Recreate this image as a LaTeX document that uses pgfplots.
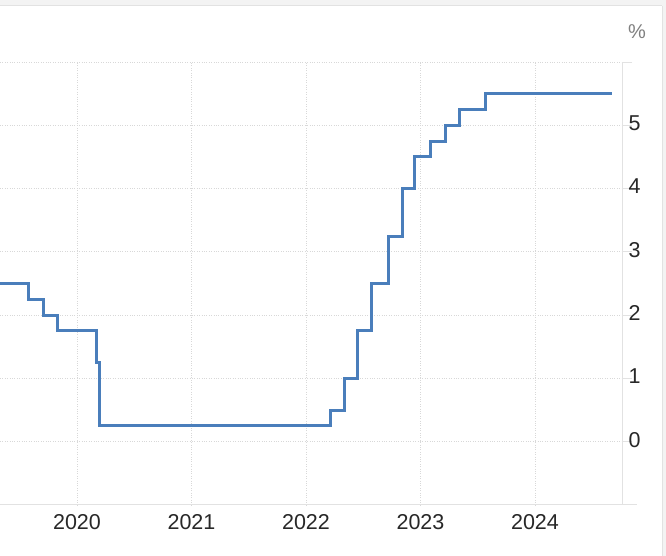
\documentclass[border=0pt]{standalone}
\usepackage{pgfplots}
\pgfplotsset{compat=1.18}
\usepackage{fontspec}
\setmainfont{Liberation Sans}
\definecolor{linec}{RGB}{74,126,187}
\definecolor{gridc}{RGB}{216,216,216}
\definecolor{axc}{RGB}{226,226,226}
\definecolor{labc}{RGB}{40,40,40}
\definecolor{bandc}{RGB}{243,243,243}
\begin{document}
\begin{tikzpicture}[x=1pt,y=1pt]
\path[use as bounding box] (0,0) rectangle (666,556);
\fill[white] (0,0) rectangle (666,556);
\fill[bandc] (0,550) rectangle (666,556);
\draw[axc,line width=1pt] (0,550) -- (662,550);
\fill[bandc] (662,0) rectangle (666,556);
\draw[axc,line width=1pt] (662,0) -- (662,550);
\begin{axis}[
  at={(0pt,51pt)}, anchor=south west,
  scale only axis, width=622pt, height=443pt,
  xmin=2019.3275, xmax=2024.760,
  ymin=-1, ymax=6,
  axis x line*=bottom, axis y line*=right,
  axis line style={draw=axc, line width=1pt},
  xtick={2020,2021,2022,2023,2024},
  ytick={0,1,2,3,4,5},
  extra y ticks={6}, extra y tick labels={},
  grid=major,
  major grid style={gridc, dotted, line width=0.9pt},
  xtick style={draw=none},
  ytick style={draw=axc, line width=1pt},
  tick align=outside,
  major tick length=10pt,
  /pgf/number format/1000 sep={},
  /pgf/number format/assume math mode=true,
  xticklabel style={font=\fontsize{21.5}{23}\selectfont, text=labc, yshift=4pt},
  yticklabel style={font=\fontsize{21.5}{23}\selectfont, text=labc, xshift=-7pt, yshift=2pt},
  clip=true,
]
\addplot[const plot mark left, linec, line width=3pt, line join=miter] coordinates {
(2019.0,2.5)
(2019.58,2.25)
(2019.71,2.0)
(2019.83,1.75)
(2020.17,1.25)
(2020.20,0.25)
(2022.21,0.5)
(2022.34,1.0)
(2022.45,1.75)
(2022.57,2.5)
(2022.72,3.25)
(2022.84,4.0)
(2022.95,4.5)
(2023.09,4.75)
(2023.22,5.0)
(2023.34,5.25)
(2023.57,5.5)
(2024.672,5.5)
};
\end{axis}
\draw[axc,line width=1pt] (0,51) -- (637,51);
\node[text=gray, font=\fontsize{20}{22}\selectfont] at (637,524) {\%};
\end{tikzpicture}
\end{document}
